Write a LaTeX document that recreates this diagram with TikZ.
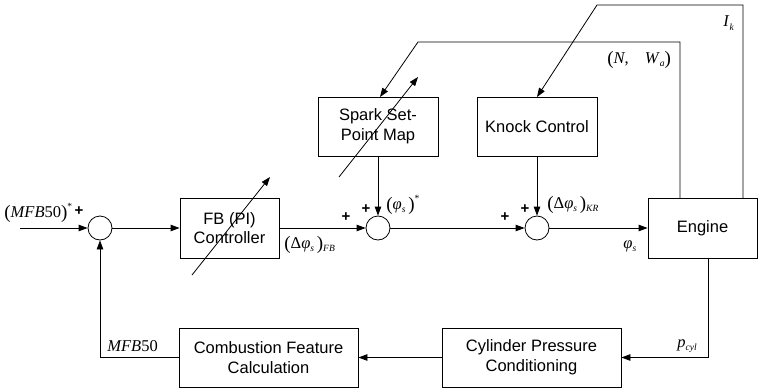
\documentclass[tikz,border=0pt]{standalone}
\usepackage{fontspec}
\setmainfont{Liberation Sans}
\newfontfamily\tms{Liberation Serif}
\usetikzlibrary{arrows.meta}
\newcommand\ssub[1]{\raisebox{-0.45ex}{\fontsize{9.5}{9.5}\selectfont\itshape #1}}
\newcommand\ssup[1]{\raisebox{1.0ex}{\fontsize{9.5}{9.5}\selectfont #1}}
\newcommand\lpar{\raisebox{-0.15ex}{\fontsize{19}{19}\selectfont(}}
\newcommand\rpar{\raisebox{-0.15ex}{\fontsize{19}{19}\selectfont)}}
\begin{document}
\begin{tikzpicture}[x=1pt,y=-1pt,line width=0.8pt,
  blk/.style={draw,rectangle,align=center,inner sep=0pt,font=\fontsize{16.5}{19.8}\selectfont},
  sumj/.style={draw,circle,minimum size=24pt,inner sep=0pt},
  lbl/.style={inner sep=0pt,font=\tms\fontsize{16.5}{18}\selectfont},
  pl/.style={inner sep=0pt,font=\bfseries\fontsize{15}{15}\selectfont},
  arr/.style={-{Triangle[length=9pt,width=6.5pt]}}]
\useasboundingbox (0,0) rectangle (760,388);

% blocks
\node[blk,minimum width=99pt,minimum height=60pt] (fb) at (229.5,228) {FB (PI)\\Controller};
\node[blk,minimum width=120pt,minimum height=59pt] (spark) at (378,126.5) {Spark Set-\\Point Map};
\node[blk,minimum width=120pt,minimum height=59pt] (knock) at (537,126.5) {Knock Control};
\node[blk,minimum width=109pt,minimum height=60pt] (eng) at (702.5,228) {Engine};
\node[blk,minimum width=179pt,minimum height=59pt] (comb) at (268.5,357.5) {Combustion Feature\\Calculation};
\node[blk,minimum width=179pt,minimum height=59pt] (cyl) at (531.5,357.5) {Cylinder Pressure\\Conditioning};

% summing junctions
\node[sumj] (s1) at (100,228) {};
\node[sumj] (s2) at (378,228) {};
\node[sumj] (s3) at (537,228) {};

% helper coordinates
\coordinate (in) at (20,228);
\coordinate (eb) at (708,258);
\coordinate (ea) at (680,198);
\coordinate (ea1) at (680,42);
\coordinate (ea2) at (418,42);
\coordinate (sp) at (380,97);
\coordinate (ek) at (743,198);
\coordinate (ek1) at (743,5);
\coordinate (ek2) at (597,5);
\coordinate (kn) at (537,97);
\coordinate (fa1) at (192,275);
\coordinate (fa2) at (270,177);
\coordinate (sa1) at (339,177);
\coordinate (sa2) at (418,77);

% forward path
\draw[arr] (in) -- (s1);
\draw[arr] (s1) -- (fb);
\draw[arr] (fb) -- (s2);
\draw[arr] (spark) -- (s2);
\draw[arr] (s2) -- (s3);
\draw[arr] (knock) -- (s3);
\draw[arr] (s3) -- (eng);

% feedback
\draw[arr] (eb) |- (cyl.east);
\draw[arr] (cyl) -- (comb);
\draw[arr] (comb.west) -| (s1.south);

% scheduling signals
\draw[arr] (ea) -- (ea1) -- (ea2) -- (sp);
\draw[arr] (ek) -- (ek1) -- (ek2) -- (kn);

% tunable arrows
\draw[arr] (fa1) -- (fa2);
\draw[arr] (sa1) -- (sa2);

% labels
\node[lbl,anchor=west] (lin) at (4,213) {\lpar\textit{MFB}50\rpar\ssup{*}};
\node[pl] (p0) at (79,211) {+};
\node[pl] (p1) at (346,217) {+};
\node[pl] (p2) at (366,209) {+};
\node[pl] (p3) at (505,217) {+};
\node[pl] (p4) at (525,209) {+};
\node[lbl,anchor=west] (lphs) at (386,205) {\lpar\textit{φ}\ssub{s}\,\rpar\ssup{*}};
\node[lbl,anchor=west] (lkr) at (547,205) {\lpar Δ\textit{φ}\ssub{s}\,\rpar\ssub{KR}};
\node[lbl,anchor=west] (lfb) at (284,245) {\lpar Δ\textit{φ}\ssub{s}\,\rpar\ssub{FB}};
\node[lbl,anchor=west] (lphi) at (623,246) {\textit{φ}\ssub{s}};
\node[lbl,anchor=west] (lnw) at (607,60) {\lpar\textit{N},\hspace{16pt}\textit{W}\ssub{a}\rpar};
\node[lbl,anchor=west] (lik) at (723,23) {\textit{I}\ssub{k}};
\node[lbl,anchor=west] (lmfb) at (107,346) {\textit{MFB}50};
\node[lbl,anchor=west] (lpc) at (677,346) {\textit{p}\ssub{cyl}};
\end{tikzpicture}
\end{document}
